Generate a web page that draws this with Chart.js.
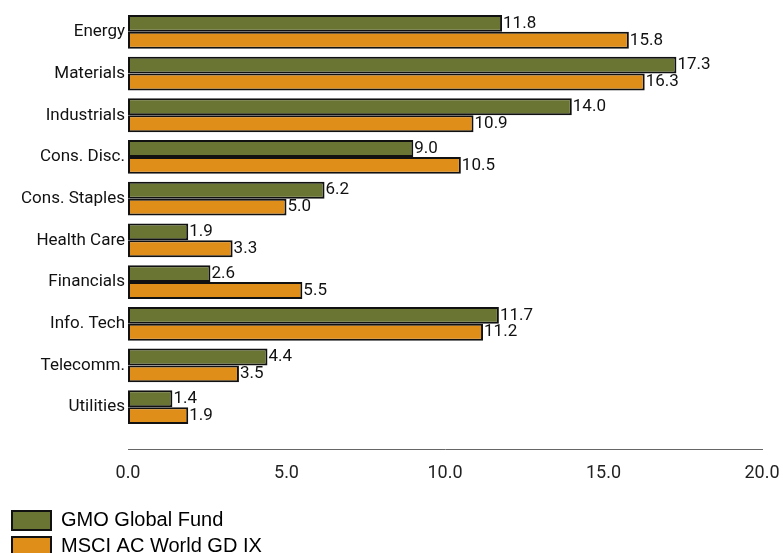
<!DOCTYPE html>
<html>
<head>
<meta charset="utf-8">
<script src="https://cdn.jsdelivr.net/npm/chart.js@4/dist/chart.umd.min.js"></script>
<style>
  html, body { margin: 0; padding: 0; background: #fff; }
  #wrap { width: 783px; height: 553px; }
</style>
</head>
<body>
<div id="wrap"><canvas id="myChart"></canvas></div>
<script>
const sectors = ["Energy", "Materials", "Industrials", "Cons. Disc.", "Cons. Staples",
                 "Health Care", "Financials", "Info. Tech", "Telecomm.", "Utilities"];
const fundValues  = [11.8, 17.3, 14.0, 9.0, 6.2, 1.9, 2.6, 11.7, 4.4, 1.4];
const indexValues = [15.8, 16.3, 10.9, 10.5, 5.0, 3.3, 5.5, 11.2, 3.5, 1.9];
const seriesNames = ["GMO Global Fund", "MSCI AC World GD IX"];
const xTicks = [0, 5, 10, 15, 20];

const narrow = "Roboto, 'Liberation Sans Narrow', 'DejaVu Sans Condensed', sans-serif";

// 棒の右端に数値を書く
const valueLabels = {
  id: "valueLabels",
  afterDatasetsDraw(chart) {
    const ctx = chart.ctx;
    ctx.save();
    ctx.font = "17px " + narrow;
    ctx.fillStyle = "#111";
    ctx.textAlign = "left";
    ctx.textBaseline = "middle";
    chart.data.datasets.forEach((ds, i) => {
      chart.getDatasetMeta(i).data.forEach((bar, j) => {
        ctx.fillText(ds.data[j].toFixed(1), bar.x + 1, bar.y);
      });
    });
    ctx.restore();
  }
};

window.onload = function () {
  const ctx = document.getElementById("myChart");
  new Chart(ctx, {
    type: "bar",
    data: {
      labels: sectors,
      datasets: [
        {
          label: seriesNames[0],
          data: fundValues,
          backgroundColor: "#6b7533",
          borderColor: "#111",
          borderWidth: 2,
          borderSkipped: false
        },
        {
          label: seriesNames[1],
          data: indexValues,
          backgroundColor: "#e08e1a",
          borderColor: "#111",
          borderWidth: 2,
          borderSkipped: false
        }
      ]
    },
    options: {
      indexAxis: "y",
      responsive: true,
      maintainAspectRatio: false,
      animation: false,
      barPercentage: 1.0,
      categoryPercentage: 0.81,
      layout: { padding: { top: 11, left: 6, right: 21, bottom: -13.5 } },
      scales: {
        x: {
          min: 0,
          max: 20,
          afterBuildTicks: s => { s.ticks = xTicks.map(v => ({ value: v })); },
          grid: { display: false, drawTicks: false },
          border: { display: true, color: "#666", width: 1 },
          ticks: {
            padding: 13,
            color: "#222",
            font: { family: narrow, size: 18 },
            callback: v => Number(v).toFixed(1)
          },
          afterFit: s => { s.height = 55.2; s.paddingLeft = 0; s.paddingRight = 0; }
        },
        y: {
          // 軸線との間に少し隙間をあける
          afterBuildTicks: s => { s._valueRange = 10.51; },
          grid: { display: false, drawTicks: false },
          border: { display: false },
          ticks: {
            padding: 3,
            color: "#111",
            font: { family: narrow, size: 17 }
          },
          afterFit: s => { s.width = 122; s.paddingTop = 0; s.paddingBottom = 0; }
        }
      },
      plugins: {
        legend: {
          position: "bottom",
          align: "start",
          labels: {
            boxWidth: 39,
            boxHeight: 19,
            padding: 6,
            color: "#000",
            font: { family: "'Liberation Sans', Arial, sans-serif", size: 20 },
            generateLabels: chart => {
              const items = Chart.defaults.plugins.legend.labels.generateLabels(chart);
              // 1行に1項目ずつ並べるため末尾を空白で埋める
              items[0].text = items[0].text.padEnd(110, " ");
              return items;
            }
          }
        },
        tooltip: { enabled: false }
      }
    },
    plugins: [valueLabels]
  });
};
</script>
</body>
</html>
